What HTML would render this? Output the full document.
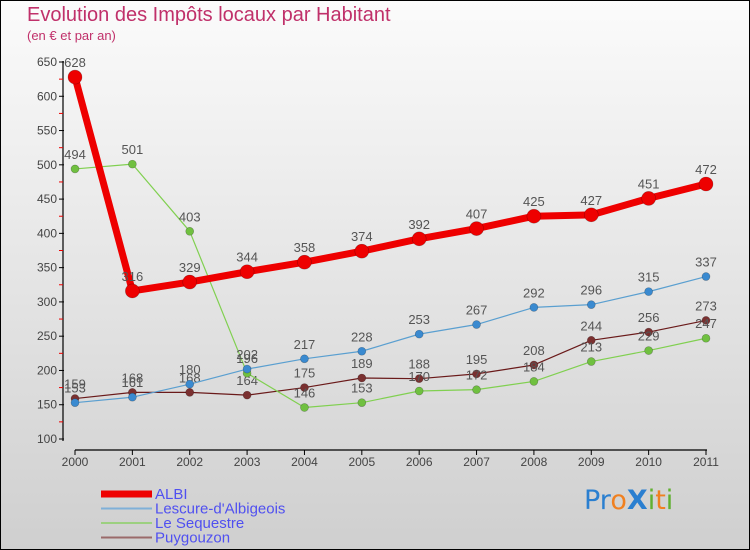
<!DOCTYPE html>
<html><head><meta charset="utf-8"><style>
body{margin:0}
#wrap{position:relative;width:748px;height:548px;border:1px solid #000;background:linear-gradient(#fbfbfb,#cfcfcf);font-family:"Liberation Sans",sans-serif;overflow:hidden}
.t{position:absolute;color:#c0306a}
svg text{font-family:"Liberation Sans",sans-serif}
</style></head><body>
<div id="wrap">
<div class="t" style="left:26px;top:3px;font-size:20px">Evolution des Impôts locaux par Habitant</div>
<div class="t" style="left:26px;top:27px;font-size:13px">(en € et par an)</div>
<svg id="svg" width="748" height="548" style="position:absolute;left:0;top:0"></svg>
<div style="position:absolute;left:583px;top:484px;font-size:27px;font-family:'DejaVu Sans',sans-serif"><span style="color:#2a7fd0">Pr</span><span style="color:#f08020">o</span><span style="color:#2a7fd0;font-weight:bold">X</span><span style="color:#60b030">i</span><span style="color:#f08020">t</span><span style="color:#60b030">i</span></div>
</div>
<script>
const years=["2000","2001","2002","2003","2004","2005","2006","2007","2008","2009","2010","2011"];
const yTicks=[100,150,200,250,300,350,400,450,500,550,600,650];
const albi=[628,316,329,344,358,374,392,407,425,427,451,472];
const lescure=[153,161,180,202,217,228,253,267,292,296,315,337];
const sequestre=[494,501,403,196,146,153,170,172,184,213,229,247];
const puygouzon=[159,168,168,164,175,189,188,195,208,244,256,273];
const names=["ALBI","Lescure-d'Albigeois","Le Sequestre","Puygouzon"];
const NS="http://www.w3.org/2000/svg";
const svg=document.getElementById('svg');
const X=i=>74+i*(631/11);
const Y=v=>438-(v-100)*(377/550);
function el(t,a,p){const e=document.createElementNS(NS,t);for(const k in a)e.setAttribute(k,a[k]);(p||svg).appendChild(e);return e;}
let ax=el('line',{x1:62,y1:60,x2:62,y2:440,stroke:'#000','stroke-width':1.2});


let bx=el('line',{x1:74,y1:449,x2:706,y2:449,stroke:'#000','stroke-width':1.2});


yTicks.forEach((v,i)=>{
  el('line',{x1:58,y1:Y(v),x2:63,y2:Y(v),stroke:'#000'});
  const t=el('text',{x:56,y:Y(v)+4,'text-anchor':'end','font-size':12,fill:'#444'});t.textContent=v;
  
  
  if(i<yTicks.length-1){el('line',{x1:58,y1:Y(v+25),x2:62,y2:Y(v+25),stroke:'#e00'});}
});
years.forEach((y,i)=>{
  el('line',{x1:X(i),y1:449,x2:X(i),y2:454,stroke:'#000'});
  const t=el('text',{x:X(i),y:465,'text-anchor':'middle','font-size':12,fill:'#444'});t.textContent=y;
  
  
});
const series=[[puygouzon,'#6a1a1a','#7a3030',1.2,4],[sequestre,'#80d050','#70c040',1.2,4],[lescure,'#5a9fd0','#3a8ad0',1.2,4],[albi,'#ee0000','#ee0000',7,7]];
const order=[3,2,1,0];
series.forEach((s,si)=>{
  const g=el('g',{});
  
  
  el('polyline',{points:s[0].map((v,i)=>X(i)+','+Y(v)).join(' '),fill:'none',stroke:s[1],'stroke-width':s[3],'stroke-linejoin':'round'},g);
  s[0].forEach((v,i)=>{
    const c=el('circle',{cx:X(i),cy:Y(v),r:s[4],fill:s[2],stroke:'rgba(0,0,0,0.3)','stroke-width':0.6},g);
    
    
    const t=el('text',{x:X(i),y:Y(v)-10,'text-anchor':'middle','font-size':13,fill:'#555'},g);t.textContent=v;
    
    
  });
});
const lc=['#ee0000','#7fb0d8','#9cd080','#9a6a6a'];const lw=[7,2,2,2];
names.forEach((n,i)=>{
  const y=493+i*14.5;
  const g=el('g',{});
  
  
  el('line',{x1:100,y1:y,x2:151,y2:y,stroke:lc[i],'stroke-width':lw[i]},g);
  const t=el('text',{x:154,y:y+5,'font-size':15,fill:'#5050f0'},g);t.textContent=n;
});
</script>
</body></html>
